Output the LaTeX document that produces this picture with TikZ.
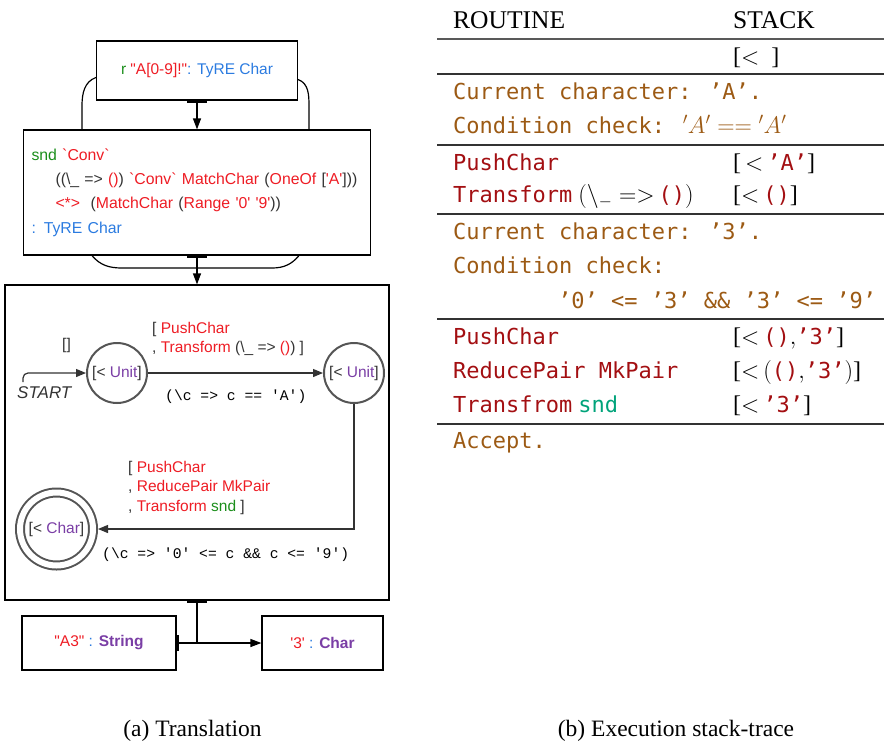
\RequirePackage{fix-cm}
\documentclass[tikz,border=0pt]{standalone}
\usepackage{fontspec}
\setmainfont{Liberation Serif}
\setsansfont{Liberation Sans}
\setmonofont{Liberation Mono}
\newfontfamily\tracemono{DejaVu Sans Mono}
\usetikzlibrary{arrows.meta}

\definecolor{lgreen}{HTML}{1B8E1B}
\definecolor{lred}{HTML}{EE1C24}
\definecolor{lblue}{HTML}{2B7BE0}
\definecolor{lpurple}{HTML}{7A3EA5}
\definecolor{ldark}{HTML}{333333}
\definecolor{sgray}{HTML}{555555}
\definecolor{tbrown}{HTML}{9C5A14}
\definecolor{tred}{HTML}{A30F12}
\definecolor{tteal}{HTML}{00A37A}

\newcommand\lsf{\sffamily\fontsize{15.5}{19.5}\selectfont}
\newcommand\lmono{\ttfamily\fontsize{14.7}{18}\selectfont}
\newcommand\cgr[1]{\textcolor{lgreen}{#1}}
\newcommand\crd[1]{\textcolor{lred}{#1}}
\newcommand\cbl[1]{\textcolor{lblue}{#1}}
\newcommand\cpu[1]{\textcolor{lpurple}{#1}}
\newcommand\tmono{\tracemono\fontsize{22}{26}\selectfont}
\newcommand\tr[1]{\textcolor{tred}{\tmono #1}}
\newcommand\tb[1]{\textcolor{tbrown}{\tmono #1}}
\newcommand\sq{\textquotesingle}

\begin{document}
\begin{tikzpicture}[x=1pt,y=-1pt,>={Triangle[length=11pt,width=8pt]},
  box/.style={draw,line width=1.2pt,text=ldark,font=\lsf},
  flow/.style={line width=1.2pt,{Bar[width=20pt,line width=2.5pt]}->},
  state/.style={circle,draw=sgray,line width=2pt,minimum size=60pt,inner sep=0pt,text=ldark,font=\lsf},
  edge/.style={draw=ldark,line width=1.2pt,->,>={Triangle[length=10pt,width=8pt]}},
  elabel/.style={inner sep=0pt,anchor=west,text=ldark,font=\lsf,align=left},
  clabel/.style={inner sep=0pt,anchor=west,text=black,font=\lmono},
  row/.style={inner sep=0pt,anchor=base west,font=\fontsize{24}{28}\selectfont},
  rule/.style={draw=black!80,line width=1.3pt}]

\useasboundingbox (0,0) rectangle (884,742);

% (a) translation
\node[box,minimum width=201pt,minimum height=59pt] (regex) at (197,70.5)
  {\cgr{r} \crd{\textquotedbl A[0-9]!\textquotedbl}\cbl{: TyRE Char}};
\node[box,minimum width=347pt,minimum height=125pt,text width=331pt,align=left,
  font=\sffamily\fontsize{15.8}{24.3}\selectfont] (tyre) at (197,192.5)
  {\cgr{snd} \crd{\textasciigrave Conv\textasciigrave}\\
   \hspace*{24pt}((\textbackslash\_ => \crd{()}) \crd{\textasciigrave Conv\textasciigrave{} MatchChar} (\crd{OneOf} [\crd{\sq A\sq}]))\\
   \hspace*{24pt}\crd{<*>}\ \ (\crd{MatchChar} (\crd{Range \sq 0\sq{} \sq 9\sq}))\\
   \cbl{: TyRE Char}};
\node[box,minimum width=384pt,minimum height=315pt] (trans) at (197,442.5) {};
\node[box,minimum width=154pt,minimum height=54pt] (src) at (99,643)
  {\crd{\textquotedbl A3\textquotedbl} \cbl{:} \cpu{\bfseries String}};
\node[box,minimum width=121pt,minimum height=54pt] (res) at (322.5,643)
  {\crd{\sq 3\sq} \cbl{:} \cpu{\bfseries Char}};
\coordinate (join) at (197,643);

\draw[flow] (regex) -- (tyre);
\draw[flow] (tyre) -- (trans);
\draw[line width=1.2pt,{Bar[width=20pt,line width=2.5pt]}-] (trans) -- (join);
\draw[line width=1.2pt,{Bar[width=16pt,line width=2.5pt]}->] (src) -- (res);

\draw[line width=1.2pt] ([yshift=-7pt]regex.west) to[out=200,in=90] (82,106) -- ([xshift=-115pt]tyre.north);
\draw[line width=1.2pt] ([yshift=-9pt]regex.east) to[out=-20,in=90] (309,106) -- ([xshift=112pt]tyre.north);
\draw[line width=1.2pt] ([xshift=-105pt]tyre.south) to[out=-50,in=180] (122,268) -- (272,268)
  to[out=0,in=-130] ([xshift=102pt]tyre.south);

% automaton
\node[state] (q0) at (117,373) {[< \cpu{Unit}]};
\node[state] (q1) at (354,373) {[< \cpu{Unit}]};
\node[state,double=white,double distance=6pt,minimum size=73pt,outer sep=5pt] (fin) at (56.5,529) {[< \cpu{Char}]};
\coordinate (start) at (23,382);

\draw[edge,rounded corners=5pt] (start) |- (q0);
\draw[edge] (q0) -- (q1);
\draw[edge] (q1) |- (fin);

\node[elabel,font=\sffamily\itshape\fontsize{17}{20}\selectfont] (startlbl) at (17,393) {START};
\node[elabel] (empty) at (62,345) {[]};
\node[elabel] (act1) at (152,339) {[ \crd{PushChar}\\, \crd{Transform} (\textbackslash\_ => \crd{()}) ]};
\node[clabel] (cond1) at (165,397) {(\textbackslash c => c == 'A')};
\node[elabel] (act2) at (128,487.5) {[ \crd{PushChar}\\, \crd{ReducePair MkPair}\\, \crd{Transform} \cgr{snd} ]};
\node[clabel] (cond2) at (102,555) {(\textbackslash c => '0' <= c \&\& c <= '9')};

% (b) stack trace
\node[row,font=\fontsize{25.5}{30}\selectfont] (hroutine) at (453,28) {ROUTINE};
\node[row,font=\fontsize{25.5}{30}\selectfont] (hstack) at (733,28) {STACK};
\draw[rule,draw=black!65,line width=1.6pt] (437,39) -- (884,39);
\node[row] (s0) at (733,64) {[$<$\ \ ]};
\draw[rule] (437,74) -- (884,74);
\node[row] (r1) at (453,99) {\tb{Current character: ’A’.}};
\node[row] (r2) at (453,133) {\tb{Condition check: }\textcolor{tbrown}{${}'A'=={}'A'$}};
\draw[rule] (437,145) -- (884,145);
\node[row] (r3) at (453,170.5) {\tr{PushChar}};
\node[row] (s3) at (733,170.5) {[$\,<$\,\tr{’A’}]};
\node[row] (r4) at (453,202.5) {\tr{Transform}\ $(\backslash_{-}=>$\,\tr{()}$)$};
\node[row] (s4) at (733,202.5) {[$<$\,\tr{()}]};
\draw[rule] (437,214) -- (884,214);
\node[row] (r5) at (453,239.5) {\tb{Current character: ’3’.}};
\node[row] (r6) at (453,273.5) {\tb{Condition check:}};
\node[row] (r7) at (558,308.5) {\tb{’0’ <= ’3’ \&\& ’3’ <= ’9’}};
\draw[rule] (437,319) -- (884,319);
\node[row] (r8) at (453,344.5) {\tr{PushChar}};
\node[row] (s8) at (733,344.5) {[$<$\,\tr{()}$,$\tr{’3’}]};
\node[row] (r9) at (453,378.5) {\tr{ReducePair MkPair}};
\node[row] (s9) at (733,378.5) {[$<$\,$($\tr{()}$,$\tr{’3’}$)$]};
\node[row] (r10) at (453,412.5) {\tr{Transfrom}\ \textcolor{tteal}{\tmono snd}};
\node[row] (s10) at (733,412.5) {[$<$\,\tr{’3’}]};
\draw[rule] (437,424) -- (884,424);
\node[row] (r11) at (453,448) {\tb{Accept.}};

% captions
\node[inner sep=0pt,anchor=base,font=\fontsize{23.5}{28}\selectfont] (capa) at (192.5,736) {(a) Translation};
\node[inner sep=0pt,anchor=base,font=\fontsize{23.5}{28}\selectfont] (capb) at (676,736) {(b) Execution stack-trace};
\end{tikzpicture}
\end{document}
